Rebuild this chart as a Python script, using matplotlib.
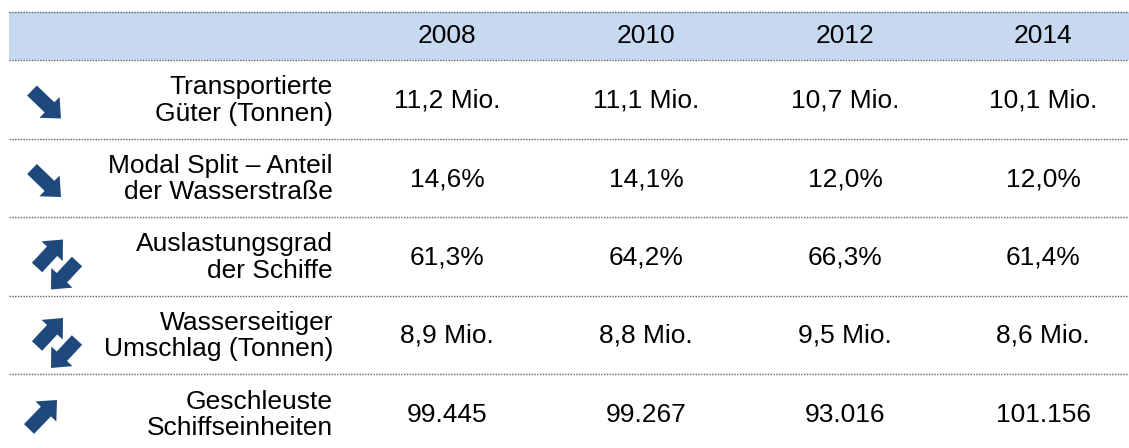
"""Table of inland waterway indicators 2008-2014 with trend arrows."""

import matplotlib.pyplot as plt
from matplotlib.patches import FancyArrow, Rectangle

plt.rcParams["font.family"] = ["Liberation Sans", "DejaVu Sans"]

YEARS = ["2008", "2010", "2012", "2014"]
LABELS = [
    "Transportierte\nGüter (Tonnen)",
    "Modal Split – Anteil\nder Wasserstraße",
    "Auslastungsgrad\nder Schiffe",
    "Wasserseitiger\nUmschlag (Tonnen)",
    "Geschleuste\nSchiffseinheiten",
]
VALUES = [
    ["11,2 Mio.", "11,1 Mio.", "10,7 Mio.", "10,1 Mio."],
    ["14,6%", "14,1%", "12,0%", "12,0%"],
    ["61,3%", "64,2%", "66,3%", "61,4%"],
    ["8,9 Mio.", "8,8 Mio.", "9,5 Mio.", "8,6 Mio."],
    ["99.445", "99.267", "93.016", "101.156"],
]
TRENDS = ["down", "down", "both", "both", "up"]

W, H = 1129, 448
HEADER_TOP, HEADER_BOT = 12, 60
ROW_EDGES = [60, 139, 217, 296, 374, 454]
COL_X = [447, 646, 845, 1043]
LABEL_RIGHT = 333
ARROW_COLOR = "#1F497D"
FS = 19


def arrow(ax, x0, y0, dx, dy):
    ax.add_patch(FancyArrow(x0, y0, dx, dy, width=14, head_width=29,
                            head_length=16, length_includes_head=True,
                            color=ARROW_COLOR, lw=0))


def draw_trend(ax, kind, yc):
    if kind == "down":
        arrow(ax, 32, yc - 10, 29, 28)
    elif kind == "up":
        arrow(ax, 29, yc + 14, 28, -29)
    else:
        arrow(ax, 37, yc + 10, 26, -28)
        arrow(ax, 77, yc + 4, -26, 28)


fig = plt.figure(figsize=(W / 100, H / 100), dpi=100)
ax = fig.add_axes([0, 0, 1, 1])
ax.set_xlim(0, W)
ax.set_ylim(H, 0)
ax.axis("off")

ax.add_patch(Rectangle((9, HEADER_TOP), W - 9, HEADER_BOT - HEADER_TOP,
                       facecolor="#C6D9F1", edgecolor="none"))
for y in [HEADER_TOP] + ROW_EDGES[:-1]:
    ax.plot([9, W], [y, y], color="#606060", lw=1.0, ls=(0, (1, 1)))

yh = (HEADER_TOP + HEADER_BOT) / 2
for x, yr in zip(COL_X, YEARS):
    ax.text(x, yh, yr, ha="center", va="center", fontsize=FS)

for i, (label, vals, trend) in enumerate(zip(LABELS, VALUES, TRENDS)):
    yc = (ROW_EDGES[i] + ROW_EDGES[i + 1]) / 2 + 1
    ax.text(LABEL_RIGHT, yc, label, ha="right", va="center", fontsize=FS,
            linespacing=1.15, multialignment="right")
    for x, v in zip(COL_X, vals):
        ax.text(x, yc, v, ha="center", va="center", fontsize=FS)
    draw_trend(ax, trend, yc)

fig.savefig("out.png", dpi=100)
